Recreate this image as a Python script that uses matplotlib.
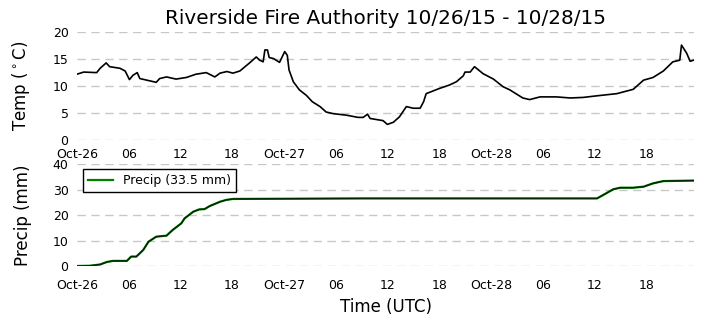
import numpy as np
import pandas as pd
import matplotlib
matplotlib.use("Agg")
import matplotlib.pyplot as plt
import matplotlib.dates as mdates
from matplotlib.ticker import FuncFormatter

# temperatura (horas desde 26/10 00 UTC, graus C)
temp_horas = [0, 0.8, 2.3, 2.7, 3.4, 3.8, 5.0, 5.6, 6.1, 6.5, 7.0, 7.3, 9.2, 9.6,
              10.4, 11.5, 12.7, 13.8, 15.0, 16.0, 16.6, 17.4, 18.1, 18.9, 19.5,
              20.1, 20.8, 21.2, 21.6, 21.8, 22.1, 22.3, 22.8, 23.5, 24.1, 24.4,
              24.6, 25.1, 25.8, 26.6, 27.3, 28.2, 28.9, 29.7, 31.3, 32.6, 33.2,
              33.7, 34.0, 35.5, 36.0, 36.7, 37.4, 38.2, 39.0, 39.8, 40.2, 40.5,
              41.3, 42.1, 43.2, 44.0, 44.8, 45.0, 45.6, 46.1, 47.1, 48.3, 49.4,
              50.2, 51.0, 51.7, 52.5, 53.7, 55.6, 57.2, 58.7, 60.3, 62.6, 64.5,
              65.7, 66.8, 68.0, 69.1, 69.9, 70.1, 70.7, 71.1, 71.5]
temp_valores = [12.2, 12.6, 12.5, 13.3, 14.3, 13.6, 13.3, 12.8, 11.2, 12.0, 12.5,
                11.4, 10.7, 11.4, 11.7, 11.3, 11.6, 12.2, 12.5, 11.7, 12.4, 12.7,
                12.4, 12.8, 13.6, 14.4, 15.4, 14.8, 14.5, 16.7, 16.7, 15.3, 15.1,
                14.4, 16.4, 15.7, 13.0, 10.8, 9.3, 8.3, 7.1, 6.2, 5.2, 4.9, 4.6,
                4.2, 4.2, 4.8, 4.0, 3.6, 2.9, 3.3, 4.3, 6.2, 5.9, 5.9, 7.1, 8.6,
                9.1, 9.6, 10.2, 10.8, 11.9, 12.6, 12.6, 13.6, 12.3, 11.3, 9.9,
                9.3, 8.5, 7.8, 7.5, 8.0, 8.0, 7.8, 7.9, 8.2, 8.6, 9.4, 11.1, 11.6,
                12.8, 14.5, 14.8, 17.6, 16.1, 14.6, 14.8]

# chuva acumulada (mm)
chuva_horas = [0, 1.5, 2.7, 3.5, 4.2, 5.8, 6.3, 6.9, 7.7, 8.3, 9.2, 10.4, 11.1,
               12.1, 12.5, 13.5, 14.2, 14.8, 15.4, 16.6, 17.3, 18.1, 33.0, 60.3,
               61.0, 62.2, 63.0, 64.5, 65.7, 66.8, 68.0, 71.5]
chuva_valores = [0, 0.1, 0.6, 1.6, 2.0, 2.0, 3.7, 3.7, 6.3, 9.5, 11.5, 11.9, 14.1,
                 16.7, 18.7, 21.3, 22.2, 22.3, 23.5, 25.2, 25.9, 26.3, 26.5, 26.5,
                 27.8, 30.1, 30.7, 30.7, 31.1, 32.4, 33.3, 33.5]

inicio = pd.Timestamp("2015-10-26 00:00")
t_temp = inicio + pd.to_timedelta(temp_horas, unit="h")
t_chuva = inicio + pd.to_timedelta(chuva_horas, unit="h")


def rotulo(x, pos):
    d = mdates.num2date(x)
    if d.hour == 0:
        return d.strftime("%b-%d")
    return d.strftime("%H")


fig = plt.figure(figsize=(7.05, 3.28), dpi=100)
ax1 = fig.add_axes([0.109, 0.573, 0.876, 0.329])
ax2 = fig.add_axes([0.109, 0.189, 0.876, 0.311])

ax1.plot(t_temp, temp_valores, color="black", lw=1.2)
ax2.plot(t_chuva, chuva_valores, color="green", lw=1.6, label="Precip (33.5 mm)")
ax2.plot(t_chuva, chuva_valores, color="black", lw=1, alpha=0.7)

ax1.set_ylim(0, 20)
ax1.set_yticks([0, 5, 10, 15, 20])
ax2.set_ylim(0, 40)
ax2.set_yticks([0, 10, 20, 30, 40])

for ax in (ax1, ax2):
    ax.set_xlim(inicio, inicio + pd.Timedelta(hours=71.6))
    ax.xaxis.set_major_locator(mdates.HourLocator(byhour=[0, 6, 12, 18]))
    ax.xaxis.set_major_formatter(FuncFormatter(rotulo))
    for s in ax.spines.values():
        s.set_visible(False)
    ax.tick_params(length=0, labelsize=9)
    ax.tick_params(axis="y", pad=6)
    ax.yaxis.grid(True, color="#c8c8c8", linestyle=(0, (6, 4)), lw=1)
    ax.set_axisbelow(True)
    ax.yaxis.set_label_coords(-0.072, 0.5)

ax1.tick_params(axis="x", pad=6)
ax2.tick_params(axis="x", pad=9)

ax1.set_title("Riverside Fire Authority 10/26/15 - 10/28/15", fontsize=14.4, pad=6)
ax1.set_ylabel(r"Temp ($^\circ$C)", fontsize=12)
ax2.set_ylabel("Precip (mm)", fontsize=12)
ax2.set_xlabel("Time (UTC)", fontsize=12, labelpad=5)

leg = ax2.legend(loc="upper left", fontsize=9, fancybox=False, framealpha=1,
                 bbox_to_anchor=(0.0, 1.01), borderaxespad=0.5)
leg.get_frame().set_edgecolor("black")

fig.savefig("out.png", dpi=100)
